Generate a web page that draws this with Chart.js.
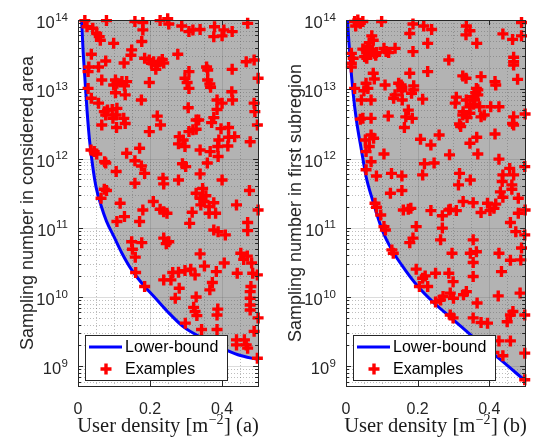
<!DOCTYPE html>
<html>
<head>
<meta charset="utf-8">
<script src="https://cdn.jsdelivr.net/npm/chart.js@4.4.1/dist/chart.umd.min.js"></script>
<style>
  html, body { margin: 0; padding: 0; background: #fff; }
  #wrap { position: relative; width: 534px; height: 438px; overflow: hidden; }
  #wrap canvas { position: absolute; top: 0; }
</style>
</head>
<body>
<div id="wrap">
  <canvas id="panelA" width="267" height="438" style="left:0px"></canvas>
  <canvas id="panelB" width="266" height="438" style="left:268px"></canvas>
</div>
<script>
// ---------- axis ticks ----------
const xTicks = [0, 0.2, 0.4];
const xTickLabels = ['0', '0.2', '0.4'];
const xMinorTicks = [0.05, 0.1, 0.15, 0.25, 0.3, 0.35, 0.45];
const yTicks = [1e9, 1e10, 1e11, 1e12, 1e13, 1e14];
const yMin = 5.2e8;
const yMax = 1e14;

// ---------- panel (a): considered area ----------
const lowerBoundA_density = [0.010, 0.014, 0.0188, 0.025, 0.032, 0.041, 0.050, 0.064, 0.079, 0.0995, 0.122, 0.149, 0.185, 0.212, 0.247, 0.292, 0.346, 0.400, 0.444, 0.500];
const lowerBoundA_samples = [1e14, 3.7e13, 1.52e13, 5.0e12, 1.85e12, 7.6e11, 3.9e11, 2.1e11, 1.25e11, 7.5e10, 4.3e10, 2.47e10, 1.42e10, 1.0e10, 6.3e9, 3.75e9, 2.55e9, 1.83e9, 1.47e9, 1.25e9];

const examplesA = [
  [0.019,9.8e13],[0.079,9.8e13],[0.158,9.5e13],[0.180,9.2e13],[0.228,9.8e13],[0.249,1.04e14],[0.252,8.75e13],[0.288,8.2e13],[0.319,7.2e13],[0.308,6.8e13],[0.339,7.3e13],[0.379,8.0e13],[0.405,7.2e13],[0.428,6.8e13],[0.471,8.95e13],
  [0.025,8.0e13],[0.041,7.6e13],[0.052,6.4e13],[0.059,5.75e13],[0.180,7.2e13],[0.377,5.75e13],[0.400,5.9e13],[0.062,5.1e13],[0.099,4.6e13],[0.177,4.9e13],
  [0.037,3.2e13],[0.149,3.7e13],[0.147,3.1e13],[0.277,3.2e13],
  [0.077,2.56e13],[0.128,2.4e13],[0.185,2.8e13],[0.198,2.65e13],[0.204,2.37e13],[0.210,2.5e13],[0.225,2.5e13],[0.234,2.7e13],[0.238,2.4e13],[0.216,1.94e13],[0.220,2.24e13],[0.467,2.5e13],[0.489,2.65e13],
  [0.030,2.1e13],[0.057,2.1e13],[0.357,2.1e13],[0.360,1.9e13],[0.428,1.94e13],[0.028,1.8e13],[0.308,1.8e13],[0.297,1.44e13],[0.500,1.44e13],
  [0.066,1.36e13],[0.104,1.36e13],[0.108,1.22e13],[0.122,1.29e13],[0.135,1.29e13],[0.099,1.15e13],[0.129,1.12e13],[0.198,1.25e13],[0.360,1.36e13],[0.366,1.19e13],[0.303,1.25e13],
  [0.028,1.03e13],[0.308,1.03e13],[0.368,1.07e13],[0.427,9.2e12],[0.104,8.9e12],[0.131,8.3e12],[0.037,7.4e12],[0.176,7.0e12],[0.386,7.0e12],[0.429,7.0e12],
  [0.057,6.3e12],[0.400,6.3e12],[0.489,6.3e12],[0.491,4.75e12],[0.306,5.4e12],[0.386,5.1e12],[0.073,4.75e12],[0.082,5.0e12],[0.095,5.1e12],[0.108,5.3e12],[0.077,4.25e12],[0.106,4.25e12],
  [0.097,3.8e12],[0.127,3.8e12],[0.328,3.6e12],[0.335,3.6e12],[0.377,3.9e12],[0.371,3.3e12],[0.131,3.2e12],[0.107,2.8e12],[0.066,3.05e12],[0.397,2.7e12],[0.198,2.45e12],[0.220,4.1e12],[0.229,3.05e12],[0.418,2.8e12],[0.498,3.05e12],
  [0.281,2.07e12],[0.292,1.85e12],[0.308,2.45e12],[0.319,2.6e12],[0.328,2.65e12],[0.391,1.85e12],[0.418,2.03e12],[0.435,2.07e12],[0.416,1.52e12],[0.478,1.75e12],[0.279,1.63e12],[0.297,1.49e12],
  [0.171,1.41e12],[0.036,1.33e12],[0.045,1.26e12],[0.052,1.16e12],[0.135,1.19e12],[0.339,1.33e12],[0.367,1.26e12],[0.388,1.49e12],[0.389,1.07e12],[0.359,8.6e11],
  [0.074,9.0e11],[0.077,8.6e11],[0.158,9.3e11],[0.176,7.8e11],[0.185,6.1e11],[0.106,6.5e11],[0.290,8.4e11],[0.299,7.65e11],[0.339,6.0e11],
  [0.158,4.4e11],[0.236,5.2e11],[0.238,4.3e11],[0.279,4.9e11],[0.400,4.9e11],[0.073,3.6e11],[0.079,3.45e11],[0.328,3.15e11],[0.346,3.7e11],[0.355,2.9e11],[0.476,3.45e11],
  [0.064,2.67e11],[0.117,2.26e11],[0.209,2.4e11],[0.228,1.85e11],[0.238,1.71e11],[0.247,1.62e11],[0.180,1.81e11],[0.129,1.45e11],[0.317,1.68e11],[0.339,2.67e11],[0.350,2.4e11],[0.341,2.14e11],[0.364,2.02e11],[0.377,2.3e11],[0.382,1.62e11],[0.364,1.62e11],[0.440,2.14e11],[0.500,1.81e11],
  [0.108,1.23e11],[0.171,1.23e11],[0.310,1.16e11],[0.377,9.3e10],[0.389,8.8e10],[0.409,7.9e10],[0.471,1.19e11],[0.471,9.1e10],
  [0.149,6.3e10],[0.151,4.9e10],[0.159,3.77e10],[0.160,2.26e10],[0.177,6.1e10],[0.238,7.1e10],[0.245,5.9e10],[0.252,6.3e10],
  [0.238,1.77e10],[0.258,1.77e10],[0.263,2.26e10],[0.279,2.29e10],[0.297,2.41e10],[0.313,2.53e10],[0.325,2.09e10],[0.339,4.2e10],[0.351,2.8e10],[0.384,2.33e10],[0.406,3.1e10],[0.442,2.21e10],[0.452,4.3e10],[0.460,3.5e10],[0.470,3.9e10],[0.482,3.1e10],[0.485,2.21e10],[0.498,2.09e10],
  [0.185,1.42e10],[0.281,1.34e10],[0.366,1.27e10],[0.373,1.62e10],[0.480,1.42e10],[0.478,1.2e10],[0.478,9.6e9],[0.478,7.7e9],[0.478,6.5e9],
  [0.270,9.6e9],[0.328,1.0e10],[0.321,7.1e9],[0.325,6.2e9],[0.330,5.4e9],[0.388,6.7e9],[0.386,5.5e9],[0.500,5.0e9],[0.298,4.2e9],[0.343,3.4e9],[0.386,3.4e9],[0.489,3.2e9],
  [0.440,2.41e9],[0.440,2.04e9],[0.462,2.41e9],[0.467,2.04e9],[0.471,1.83e9],[0.498,1.31e9]
];

// ---------- panel (b): first subregion ----------
const lowerBoundB_density = [0.004, 0.011, 0.020, 0.029, 0.043, 0.056, 0.074, 0.101, 0.128, 0.165, 0.201, 0.246, 0.300, 0.364, 0.427, 0.500];
const lowerBoundB_samples = [1e14, 2.95e13, 8.75e12, 3.6e12, 1.33e12, 5.5e11, 2.53e11, 9.3e10, 4.8e10, 2.47e10, 1.42e10, 8.2e9, 4.7e9, 2.41e9, 1.30e9, 6.2e8];

const examplesB = [
  [0.024,9.5e13],[0.033,1.0e14],[0.040,8.95e13],[0.047,9.5e13],[0.027,8.2e13],[0.0995,9.5e13],[0.187,8.75e13],[0.178,6.4e13],[0.217,8.2e13],[0.239,7.3e13],[0.336,8.2e13],[0.346,7.0e13],[0.335,6.1e13],[0.490,9.2e13],[0.438,6.3e13],[0.465,5.25e13],[0.490,5.9e13],
  [0.072,5.9e13],[0.076,5.1e13],[0.065,4.7e13],[0.061,4.1e13],[0.228,4.6e13],[0.365,4.6e13],[0.047,3.8e13],[0.056,3.7e13],[0.065,3.5e13],[0.074,3.7e13],[0.079,3.3e13],[0.085,3.4e13],[0.106,3.9e13],[0.112,3.5e13],[0.119,3.4e13],[0.137,3.9e13],[0.187,3.5e13],[0.052,2.96e13],[0.058,2.8e13],[0.083,3.1e13],
  [0.015,3.3e13],[0.020,2.8e13],[0.015,2.37e13],[0.015,2.1e13],[0.287,2.65e13],[0.468,2.9e13],[0.468,2.5e13],[0.468,2.24e13],
  [0.076,1.7e13],[0.079,1.41e13],[0.178,1.7e13],[0.228,1.8e13],[0.326,1.56e13],[0.335,1.44e13],[0.377,1.52e13],[0.479,1.39e13],[0.416,1.29e13],
  [0.056,1.22e13],[0.061,1.03e13],[0.024,1.03e13],[0.050,9.5e12],[0.109,1.15e13],[0.147,1.22e13],[0.154,1.15e13],[0.156,1.07e13],[0.156,9.5e12],[0.189,1.12e13],[0.189,9.8e12],[0.418,1.15e13],[0.364,1.03e13],[0.368,9.8e12],[0.362,8.9e12],
  [0.043,7.0e12],[0.070,7.0e12],[0.137,8.3e12],[0.133,7.4e12],[0.157,7.0e12],[0.183,8.75e12],[0.214,7.2e12],[0.308,7.7e12],[0.305,6.3e12],[0.336,7.0e12],[0.355,7.8e12],[0.359,7.0e12],[0.368,8.3e12],[0.346,5.6e12],[0.356,6.1e12],[0.373,5.6e12],[0.404,5.6e12],[0.427,5.6e12],
  [0.174,5.0e12],[0.327,4.75e12],[0.326,4.25e12],[0.338,3.9e12],[0.346,4.5e12],[0.377,4.0e12],[0.386,4.25e12],[0.040,3.7e12],[0.047,3.8e12],[0.070,3.8e12],[0.118,4.1e12],[0.167,4.0e12],[0.185,3.8e12],[0.500,4.4e12],[0.468,4.0e12],[0.465,3.2e12],
  [0.163,2.8e12],[0.317,3.15e12],[0.320,2.9e12],[0.054,1.85e12],[0.070,2.19e12],[0.077,1.96e12],[0.065,1.49e12],[0.260,2.19e12],[0.208,1.9e12],[0.237,1.57e12],[0.346,1.66e12],[0.365,2.03e12],[0.416,2.26e12],[0.468,3.05e12],
  [0.056,1.26e12],[0.106,1.16e12],[0.070,9.0e11],[0.219,8.4e11],[0.246,8.6e11],[0.214,5.8e11],[0.289,1.13e12],[0.317,6.1e11],[0.347,4.9e11],[0.368,1.16e12],[0.427,9.8e11],[0.457,7.2e11],[0.468,5.8e11],[0.499,7.65e11],[0.056,6.9e11],[0.085,5.6e11],[0.156,5.6e11],[0.127,6.1e11],[0.438,5.8e11],
  [0.314,4.16e11],[0.436,4.65e11],[0.463,4.16e11],[0.463,3.6e11],[0.431,3.3e11],[0.124,3.15e11],[0.156,3.45e11],[0.438,2.76e11],[0.481,2.67e11],[0.327,2.4e11],[0.355,2.3e11],[0.395,2.26e11],[0.413,1.91e11],[0.418,2.2e11],[0.081,2.26e11],[0.085,1.98e11],
  [0.160,1.81e11],[0.174,1.85e11],[0.181,1.91e11],[0.237,1.77e11],[0.287,1.81e11],[0.291,1.85e11],[0.308,1.77e11],[0.402,1.77e11],[0.097,1.53e11],[0.269,1.49e11],[0.377,1.66e11],[0.481,1.62e11],[0.500,1.81e11],
  [0.106,1.04e11],[0.110,9.3e10],[0.196,1.04e11],[0.269,9.9e10],[0.264,6.7e10],[0.459,1.19e11],[0.474,8.8e10],[0.499,7.9e10],[0.187,7.1e10],[0.178,6.1e10],[0.355,6.7e10],[0.128,4.8e10],[0.132,4.3e10],
  [0.296,4.3e10],[0.347,4.3e10],[0.364,4.5e10],[0.427,4.3e10],[0.459,3.4e10],[0.490,5.1e10],[0.488,3.44e10],[0.355,3.15e10],[0.196,2.53e10],[0.434,2.33e10],[0.221,2.02e10],[0.214,1.87e10],[0.250,2.21e10],[0.287,2.21e10],[0.299,1.67e10],[0.355,1.98e10],[0.205,1.42e10],[0.228,1.42e10],
  [0.250,8.5e9],[0.264,9.1e9],[0.271,1.02e10],[0.291,1.14e10],[0.300,9.6e9],[0.328,1.08e10],[0.336,1.2e10],[0.366,8.2e9],[0.425,1.04e10],[0.486,1.14e10],[0.291,5.5e9],[0.299,5.0e9],[0.355,5.0e9],[0.377,4.3e9],[0.395,4.2e9],[0.459,5.5e9],[0.466,6.2e9],[0.450,4.4e9],[0.499,5.5e9],
  [0.427,2.33e9],[0.459,2.33e9],[0.413,1.58e9],[0.438,1.42e9],[0.499,1.55e9],[0.499,6.4e8]
];

// ---------- styling ----------
const AXIS_COLOR = '#262626';
const CURVE_COLOR = '#0000ff';
const MARK_COLOR = '#ff0000';
const SANS = "'Liberation Sans', Arial, Helvetica, sans-serif";
const SERIF = "'Liberation Serif', 'Times New Roman', serif";

// Draws "base" followed by a raised, smaller exponent, right-aligned at xRight.
function drawPower(ctx, base, exp, xRight, baseline, baseFont, expFont, expRaise) {
  ctx.font = expFont;
  const ew = ctx.measureText(exp).width;
  ctx.textAlign = 'left';
  ctx.textBaseline = 'alphabetic';
  ctx.fillText(exp, xRight - ew, baseline - expRaise);
  ctx.font = baseFont;
  const bw = ctx.measureText(base).width;
  ctx.fillText(base, xRight - ew - bw - 0.5, baseline);
}

// Grid, axes box with inward ticks, tick exponents, axis title and boxed legend.
const framePlugin = {
  id: 'frame',
  beforeDatasetsDraw(chart) {
    const {ctx, chartArea: a, scales: {x, y}} = chart;
    ctx.save();
    ctx.beginPath();
    ctx.rect(a.left, a.top, a.right - a.left, a.bottom - a.top);
    ctx.clip();
    ctx.lineWidth = 1;
    // major grid
    ctx.strokeStyle = 'rgba(38,38,38,0.16)';
    xTicks.forEach(v => {
      const px = Math.round(x.getPixelForValue(v)) + 0.5;
      ctx.beginPath(); ctx.moveTo(px, a.top); ctx.lineTo(px, a.bottom); ctx.stroke();
    });
    yTicks.forEach(v => {
      const py = Math.round(y.getPixelForValue(v)) + 0.5;
      ctx.beginPath(); ctx.moveTo(a.left, py); ctx.lineTo(a.right, py); ctx.stroke();
    });
    // minor grid (dotted)
    ctx.strokeStyle = 'rgba(38,38,38,0.3)';
    ctx.setLineDash([1, 2]);
    xMinorTicks.forEach(v => {
      const px = Math.round(x.getPixelForValue(v)) + 0.5;
      ctx.beginPath(); ctx.moveTo(px, a.top); ctx.lineTo(px, a.bottom); ctx.stroke();
    });
    for (let k = 8; k < 14; k++) {
      for (let m = 2; m <= 9; m++) {
        const v = m * Math.pow(10, k);
        if (v <= y.min || v >= y.max) continue;
        const py = Math.round(y.getPixelForValue(v)) + 0.5;
        ctx.beginPath(); ctx.moveTo(a.left, py); ctx.lineTo(a.right, py); ctx.stroke();
      }
    }
    ctx.restore();
  },
  afterDatasetsDraw(chart) {
    const {ctx, chartArea: a, scales: {x, y}} = chart;
    ctx.save();
    ctx.strokeStyle = AXIS_COLOR;
    ctx.lineWidth = 1;
    // inward tick marks on all four sides
    ctx.beginPath();
    yTicks.forEach(v => {
      const py = Math.round(y.getPixelForValue(v)) + 0.5;
      ctx.moveTo(a.left, py); ctx.lineTo(a.left + 5, py);
      ctx.moveTo(a.right, py); ctx.lineTo(a.right - 5, py);
    });
    for (let k = 8; k < 14; k++) {
      for (let m = 2; m <= 9; m++) {
        const v = m * Math.pow(10, k);
        if (v <= y.min || v >= y.max) continue;
        const py = Math.round(y.getPixelForValue(v)) + 0.5;
        ctx.moveTo(a.left, py); ctx.lineTo(a.left + 3, py);
        ctx.moveTo(a.right, py); ctx.lineTo(a.right - 3, py);
      }
    }
    xTicks.forEach(v => {
      const px = Math.round(x.getPixelForValue(v)) + 0.5;
      ctx.moveTo(px, a.bottom); ctx.lineTo(px, a.bottom - 5);
      ctx.moveTo(px, a.top); ctx.lineTo(px, a.top + 5);
    });
    ctx.stroke();
    // axes box
    ctx.strokeRect(Math.round(a.left) + 0.5, Math.round(a.top) + 0.5,
                   Math.round(a.right - a.left), Math.round(a.bottom - a.top));

    // legend
    const ds = chart.data.datasets;
    const lineDs = ds.find(d => d.showLine);
    const markDs = ds.find(d => !d.showLine);
    ctx.font = '16px ' + SANS;
    const textW = Math.max(ctx.measureText(lineDs.label).width, ctx.measureText(markDs.label).width);
    const w = Math.round(40 + textW + 9);
    const h = 45;
    const lx = Math.round(a.left) + 7;
    const ly = Math.round(a.bottom) - 6 - h;
    ctx.fillStyle = '#ffffff';
    ctx.fillRect(lx, ly, w, h);
    ctx.strokeStyle = AXIS_COLOR;
    ctx.lineWidth = 1;
    ctx.strokeRect(lx + 0.5, ly + 0.5, w, h);
    const r1 = ly + 12, r2 = ly + 34;
    ctx.strokeStyle = lineDs.borderColor;
    ctx.lineWidth = lineDs.borderWidth;
    ctx.beginPath(); ctx.moveTo(lx + 4, r1); ctx.lineTo(lx + 37, r1); ctx.stroke();
    ctx.strokeStyle = markDs.borderColor;
    ctx.lineWidth = markDs.pointBorderWidth;
    const mr = markDs.pointRadius;
    ctx.beginPath();
    ctx.moveTo(lx + 21 - mr, r2); ctx.lineTo(lx + 21 + mr, r2);
    ctx.moveTo(lx + 21, r2 - mr); ctx.lineTo(lx + 21, r2 + mr);
    ctx.stroke();
    ctx.fillStyle = '#000000';
    ctx.textBaseline = 'middle';
    ctx.textAlign = 'left';
    ctx.fillText(lineDs.label, lx + 40, r1 + 1);
    ctx.fillText(markDs.label, lx + 40, r2 + 1);
    ctx.restore();
  },
  afterDraw(chart) {
    const {ctx, chartArea: a, scales: {x, y}} = chart;
    const opts = chart.options.plugins.frame;
    ctx.save();
    // y tick labels as powers of ten
    ctx.fillStyle = AXIS_COLOR;
    y.ticks.forEach(t => {
      const py = y.getPixelForValue(t.value);
      const e = String(Math.round(Math.log10(t.value)));
      drawPower(ctx, '10', e, a.left - 10, py + 8, '16.5px ' + SANS, '11.5px ' + SANS, 7.5);
    });
    // x axis title with superscript unit
    const parts = opts.xTitle;
    const big = '20.5px ' + SERIF, small = '14px ' + SERIF;
    ctx.font = big;
    const w0 = ctx.measureText(parts[0]).width;
    const w2 = ctx.measureText(parts[2]).width;
    ctx.font = small;
    const w1 = ctx.measureText(parts[1]).width;
    const total = w0 + w1 + w2 + 1;
    let cx = (a.left + a.right) / 2 - total / 2;
    const base = 431.5;
    ctx.fillStyle = '#1a1a1a';
    ctx.textAlign = 'left';
    ctx.textBaseline = 'alphabetic';
    ctx.font = big;
    ctx.fillText(parts[0], cx, base);
    cx += w0 + 0.5;
    ctx.font = small;
    ctx.fillText(parts[1], cx, base - 8);
    cx += w1 + 0.5;
    ctx.font = big;
    ctx.fillText(parts[2], cx, base);
    ctx.restore();
  }
};

function makePanel(canvasId, curveX, curveY, examples, yTitle, xTitleParts, rightPad) {
  return new Chart(document.getElementById(canvasId), {
    type: 'scatter',
    data: {
      datasets: [
        {
          label: 'Examples',
          data: examples.map(p => ({x: p[0], y: p[1]})),
          showLine: false,
          pointStyle: 'cross',
          pointRadius: 5.5,
          pointBorderWidth: 3.4,
          borderWidth: 3.4,
          borderColor: MARK_COLOR,
          backgroundColor: MARK_COLOR,
          clip: false
        },
        {
          label: 'Lower-bound',
          data: curveX.map((v, i) => ({x: v, y: curveY[i]})),
          showLine: true,
          pointRadius: 0,
          borderColor: CURVE_COLOR,
          borderWidth: 3,
          cubicInterpolationMode: 'monotone',
          fill: 'end',
          backgroundColor: 'rgba(90,90,90,0.46)'
        }
      ]
    },
    options: {
      responsive: false,
      animation: false,
      events: [],
      layout: { padding: { left: 0, top: 20, right: rightPad, bottom: 0 } },
      plugins: {
        legend: { display: false },
        tooltip: { enabled: false },
        frame: { xTitle: xTitleParts }
      },
      scales: {
        x: {
          type: 'linear',
          min: 0, max: 0.5,
          afterBuildTicks: s => { s.ticks = xTicks.map(v => ({value: v})); },
          afterFit: s => { s.height = 52; },
          grid: { display: false },
          border: { display: false },
          ticks: {
            autoSkip: false,
            maxRotation: 0,
            padding: 6,
            color: AXIS_COLOR,
            font: { family: SANS, size: 16 },
            callback: (v) => xTickLabels[xTicks.indexOf(v)]
          },
          title: { display: false }
        },
        y: {
          type: 'logarithmic',
          min: yMin, max: yMax,
          afterBuildTicks: s => { s.ticks = yTicks.map(v => ({value: v})); },
          afterFit: s => { s.width = 78; },
          grid: { display: false },
          border: { display: false },
          ticks: { display: false },
          title: {
            display: true,
            text: yTitle,
            color: AXIS_COLOR,
            font: { family: SANS, size: 18 },
            padding: { top: 17, bottom: 0 }
          }
        }
      }
    },
    plugins: [framePlugin]
  });
}

makePanel('panelA', lowerBoundA_density, lowerBoundA_samples, examplesA,
  'Sampling number in considered area', ['User density [m', '\u22122', '] (a)'], 3);
makePanel('panelB', lowerBoundB_density, lowerBoundB_samples, examplesB,
  'Sampling number in first subregion', ['User density [m', '\u22122', '] (b)'], 4);
</script>
</body>
</html>
